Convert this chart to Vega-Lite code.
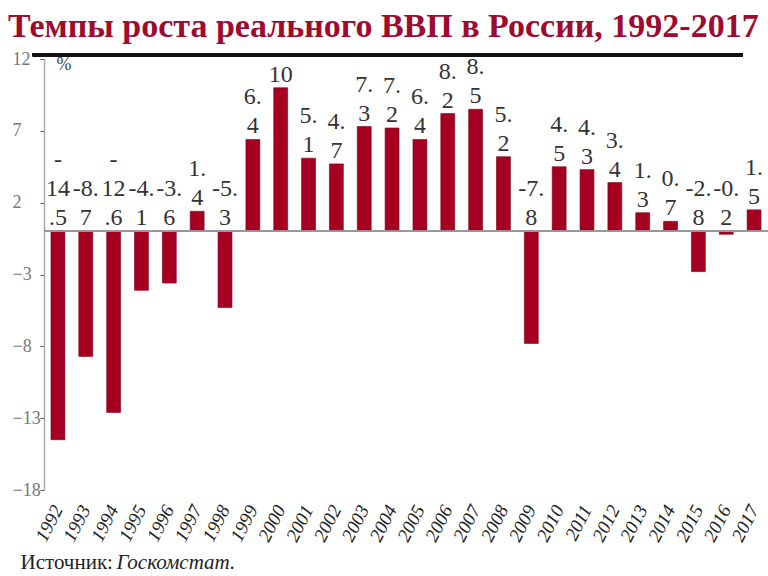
{
  "$schema": "https://vega.github.io/schema/vega-lite/v6.json",
  "autosize": {"type": "none"},
  "padding": {"left": 44, "top": 59, "right": 0, "bottom": 86},
  "width": 724,
  "height": 431,
  "background": "white",
  "title": {
    "text": "Темпы роста реального ВВП в России, 1992-2017",
    "font": "Times New Roman, Liberation Serif, serif",
    "fontSize": 34,
    "fontWeight": "bold",
    "color": "#9E0B2E",
    "anchor": "start",
    "frame": "group",
    "dx": -36,
    "offset": -21,
    "baseline": "alphabetic"
  },
  "config": {
    "view": {"stroke": null},
    "font": "Times New Roman, Liberation Serif, serif"
  },
  "data": {
    "values": [
      {"year": "1992", "value": -14.5, "label": ["-", "14", ".5"]},
      {"year": "1993", "value": -8.7, "label": ["-8.", "7"]},
      {"year": "1994", "value": -12.6, "label": ["-", "12", ".6"]},
      {"year": "1995", "value": -4.1, "label": ["-4.", "1"]},
      {"year": "1996", "value": -3.6, "label": ["-3.", "6"]},
      {"year": "1997", "value": 1.4, "label": ["1.", "4"]},
      {"year": "1998", "value": -5.3, "label": ["-5.", "3"]},
      {"year": "1999", "value": 6.4, "label": ["6.", "4"]},
      {"year": "2000", "value": 10, "label": ["10"]},
      {"year": "2001", "value": 5.1, "label": ["5.", "1"]},
      {"year": "2002", "value": 4.7, "label": ["4.", "7"]},
      {"year": "2003", "value": 7.3, "label": ["7.", "3"]},
      {"year": "2004", "value": 7.2, "label": ["7.", "2"]},
      {"year": "2005", "value": 6.4, "label": ["6.", "4"]},
      {"year": "2006", "value": 8.2, "label": ["8.", "2"]},
      {"year": "2007", "value": 8.5, "label": ["8.", "5"]},
      {"year": "2008", "value": 5.2, "label": ["5.", "2"]},
      {"year": "2009", "value": -7.8, "label": ["-7.", "8"]},
      {"year": "2010", "value": 4.5, "label": ["4.", "5"]},
      {"year": "2011", "value": 4.3, "label": ["4.", "3"]},
      {"year": "2012", "value": 3.4, "label": ["3.", "4"]},
      {"year": "2013", "value": 1.3, "label": ["1.", "3"]},
      {"year": "2014", "value": 0.7, "label": ["0.", "7"]},
      {"year": "2015", "value": -2.8, "label": ["-2.", "8"]},
      {"year": "2016", "value": -0.2, "label": ["-0.", "2"]},
      {"year": "2017", "value": 1.5, "label": ["1.", "5"]}
    ]
  },
  "layer": [
    {
      "mark": {"type": "bar", "color": "#A50021", "stroke": "#7E0019", "strokeWidth": 0.6},
      "encoding": {
        "x": {
          "field": "year",
          "type": "nominal",
          "sort": null,
          "scale": {"paddingInner": 0.5, "paddingOuter": 0.25},
          "axis": {
            "orient": "bottom",
            "domain": false,
            "ticks": false,
            "labelAngle": -63,
            "labelFont": "Times New Roman, Liberation Serif, serif",
            "labelFontStyle": "italic",
            "labelFontSize": 19,
            "labelColor": "#222",
            "labelPadding": 16,
            "title": "Источник:",
            "titleFont": "Times New Roman, Liberation Serif, serif",
            "titleFontSize": 21,
            "titleFontWeight": "normal",
            "titleColor": "#222",
            "titleAnchor": "start",
            "titleAlign": "left",
            "titleBaseline": "alphabetic",
            "titleX": -24,
            "titleY": 78
          }
        },
        "y": {
          "field": "value",
          "type": "quantitative",
          "scale": {"domain": [-18, 12], "nice": false, "zero": false},
          "axis": {
            "values": [12, 7, 2, -3, -8, -13, -18],
            "grid": false,
            "domainColor": "#AAAAAA",
            "domainWidth": 1.5,
            "tickColor": "#555",
            "tickSize": 4,
            "labelFont": "Times New Roman, Liberation Serif, serif",
            "labelFontSize": 18,
            "labelColor": "#777",
            "labelAlign": "left",
            "labelPadding": 28,
            "title": "%",
            "titleAngle": 0,
            "titleFont": "Times New Roman, Liberation Serif, serif",
            "titleFontSize": 18,
            "titleFontWeight": "normal",
            "titleColor": "#444444",
            "titleAlign": "left",
            "titleBaseline": "middle",
            "titleX": 12,
            "titleY": 5
          }
        }
      }
    },
    {
      "mark": {"type": "rule", "color": "#999999", "strokeWidth": 1},
      "encoding": {"y": {"datum": 0}}
    },
    {
      "mark": {"type": "rule", "color": "#111111", "strokeWidth": 3},
      "encoding": {
        "y": {"datum": 12.3},
        "x": {"datum": "1992", "bandPosition": -1.3, "axis": null},
        "x2": {"datum": "2017", "bandPosition": -0.3}
      }
    },
    {
      "transform": [
        {"calculate": "max(datum.value, 0) + (length(datum.label) * 29 - 4) / 14.37", "as": "base"}
      ],
      "mark": {
        "type": "text",
        "baseline": "top",
        "align": "center",
        "font": "Times New Roman, Liberation Serif, serif",
        "fontSize": 24,
        "lineHeight": 29,
        "color": "#333333"
      },
      "encoding": {
        "x": {"field": "year", "type": "nominal", "sort": null, "axis": null},
        "y": {"field": "base", "type": "quantitative"},
        "text": {"field": "label"}
      }
    },
    {
      "mark": {"type": "text", "opacity": 0},
      "encoding": {
        "x": {
          "field": "year",
          "type": "nominal",
          "sort": null,
          "axis": {
            "orient": "top",
            "domain": false,
            "ticks": false,
            "labels": false,
            "title": "Госкомстат.",
            "titleFont": "Times New Roman, Liberation Serif, serif",
            "titleFontSize": 21,
            "titleFontStyle": "italic",
            "titleFontWeight": "normal",
            "titleColor": "#222",
            "titleAnchor": "start",
            "titleAlign": "left",
            "titleBaseline": "alphabetic",
            "titleX": 72,
            "titleY": 509
          }
        },
        "text": {"value": ""}
      }
    }
  ],
  "resolve": {"axis": {"x": "independent"}}
}
